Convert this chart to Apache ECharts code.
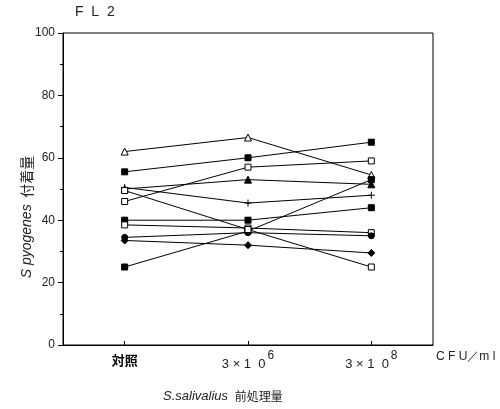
<!DOCTYPE html>
<html>
<head>
<meta charset="utf-8">
<script src="https://cdn.jsdelivr.net/npm/echarts@6/dist/echarts.min.js"></script>
<style>
  html, body { margin: 0; padding: 0; background: #fff; }
  #chart { width: 500px; height: 409px; }
</style>
</head>
<body>
<div id="chart"></div>
<script>
// categories (x axis)
const categories = ['対照', '3×10^6', '3×10^8'];
const yTicks = [0, 20, 40, 60, 80, 100];

// one array per sample line (付着量 values)
const lineA = [62, 66.5, 54.5];
const lineB = [55.5, 60, 65];
const lineC = [46, 57, 59];
const lineD = [50, 53, 51.5];
const lineE = [50.5, 45.5, 48];
const lineF = [40, 40, 44];
const lineG = [38.5, 37.5, 36];
const lineH = [25, 36.5, 53];
const lineI = [34.5, 36, 35];
const lineJ = [33.5, 32, 29.5];
const lineK = [49.5, 37, 25];

const font = 'Liberation Sans, Arial, sans-serif';
const cjk = 'Noto Sans CJK JP, sans-serif';

const mk = (data, symbol, filled, size) => ({
    type: 'line',
    data: data,
    symbol: symbol,
    symbolSize: size || 6,
    showAllSymbol: true,
    lineStyle: { color: '#000', width: 1 },
    itemStyle: { color: filled ? '#000' : '#fff', borderColor: '#000', borderWidth: 1 },
    emphasis: { disabled: true },
    z: 2
});

const chart = echarts.init(document.getElementById('chart'));

const option = {
    animation: false,
    backgroundColor: '#fff',
    grid: {
        left: 63,
        right: 67,
        top: 33,
        bottom: 64,
        show: true,
        borderColor: '#000',
        borderWidth: 1
    },
    xAxis: {
        type: 'category',
        data: categories,
        boundaryGap: true,
        axisLine: { lineStyle: { color: '#000', width: 1 } },
        axisTick: { show: true, inside: true, alignWithLabel: true, length: 4, lineStyle: { color: '#000' } },
        axisLabel: {
            margin: 5,
            formatter: function (v) {
                if (v === '対照') return '{b|対照}';
                const p = v.split('^');
                return '{a|3 × 1  0}{s|' + p[1] + '}';
            },
            rich: {
                b: { fontFamily: cjk, fontSize: 13, fontWeight: 'bold', color: '#000', padding: [4, 0, 0, 0] },
                a: { fontFamily: font, fontSize: 13, color: '#222', verticalAlign: 'bottom', padding: [8, 0, 0, 0] },
                s: { fontFamily: font, fontSize: 12, color: '#222', verticalAlign: 'top', padding: [0, 0, 6, 2] }
            }
        },
        splitLine: { show: false }
    },
    yAxis: {
        type: 'value',
        min: 0,
        max: 100,
        interval: 20,
        axisLine: { show: true, lineStyle: { color: '#000', width: 1 } },
        axisTick: { show: true, length: 5, lineStyle: { color: '#000' } },
        minorTick: { show: true, splitNumber: 2, length: 3, lineStyle: { color: '#000' } },
        splitLine: { show: false },
        axisLabel: {
            margin: 8,
            color: '#222',
            fontFamily: font,
            fontSize: 12,
            formatter: v => yTicks.includes(v) ? String(v) : ''
        }
    },
    graphic: [
        {
            type: 'text', left: 75, top: 5,
            style: { text: 'F  L  2', font: '14px ' + font, fill: '#222' }
        },
        {
            type: 'text', left: 436, top: 351,
            style: { text: 'C F U／m l', font: '12px ' + font, fill: '#222' }
        },
        {
            type: 'text', left: 163, top: 390,
            style: {
                text: '{i|S.salivalius}  {c|前処理量}',
                rich: {
                    i: { fontFamily: font, fontSize: 13, fontStyle: 'italic', fill: '#222' },
                    c: { fontFamily: cjk, fontSize: 12, fill: '#222' }
                }
            }
        },
        {
            type: 'text', x: 27, y: 217, rotation: Math.PI / 2,
            style: {
                text: '{i|S pyogenes}  {c|付着量}',
                align: 'center', verticalAlign: 'middle',
                rich: {
                    i: { fontFamily: font, fontSize: 14, fontStyle: 'italic', fill: '#222' },
                    c: { fontFamily: cjk, fontSize: 14, fill: '#222' }
                }
            }
        }
    ],
    series: [
        mk(lineA, 'triangle', false, 7),
        mk(lineB, 'rect', true),
        mk(lineC, 'rect', false),
        mk(lineD, 'triangle', true, 7),
        mk(lineE, 'path://M0,5L10,5M5,0L5,10', false, 7),
        mk(lineF, 'rect', true),
        mk(lineG, 'rect', false),
        mk(lineH, 'rect', true),
        mk(lineI, 'circle', true),
        mk(lineJ, 'diamond', true, 7),
        mk(lineK, 'rect', false)
    ]
};

chart.setOption(option);
</script>
</body>
</html>
